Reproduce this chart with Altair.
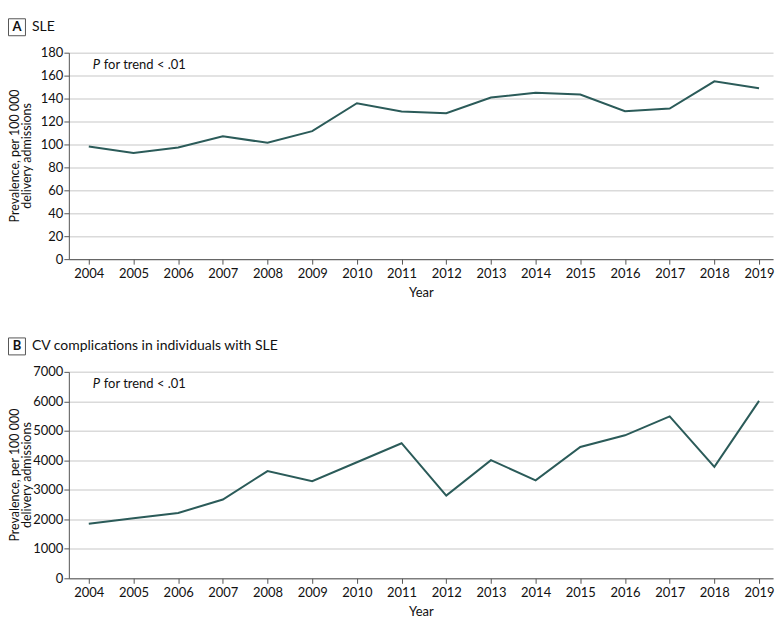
import altair as alt
import pandas as pd

years = list(range(2004, 2020))
sle_prev = [98.3, 92.5, 97.3, 107.2, 101.4, 111.6, 135.9, 128.7, 127.2, 140.9, 145.0, 143.5, 129.0, 131.3, 155.0, 149.0]
cv_prev = [1850, 2040, 2215, 2670, 3636, 3290, 3935, 4580, 2805, 4007, 3323, 4455, 4848, 5488, 3781, 6017]

panel_letters = ["A", "B"]
panel_titles = ["SLE", "CV complications in individuals with SLE"]
y_max = [180, 7000]
y_step = [20, 1000]
y_title = ["Prevalence, per 100 000", "delivery admissions"]
trend_note = "for trend < .01"

FONT = "Lato"
LINE_COLOR = "#2b5b59"
TXT = "#111111"
W, H = 706, 207
X_DOMAIN = [2004 - 20 / 44.8, 2019 + 14 / 44.8]


def panel(letter, title, values, ymax, ystep):
    df = pd.DataFrame({"Year": years, "Value": values})
    line = alt.Chart(df).mark_line(color=LINE_COLOR, strokeWidth=2).encode(
        x=alt.X(
            "Year:Q",
            scale=alt.Scale(domain=X_DOMAIN, nice=False, zero=False),
            axis=alt.Axis(
                values=years, format="d", title="Year", grid=False,
                labelPadding=3, titlePadding=6,
            ),
        ),
        y=alt.Y(
            "Value:Q",
            scale=alt.Scale(domain=[0, ymax], nice=False),
            axis=alt.Axis(
                values=list(range(0, ymax + 1, ystep)), format="d", title=None,
                grid=True, labelPadding=1,
            ),
        ),
    )
    one = pd.DataFrame({"k": [0]})
    base = alt.Chart(one)
    box = base.mark_rect(fill="white", stroke="#555555", strokeWidth=1).encode(
        x=alt.value(-60.5), x2=alt.value(-43.5), y=alt.value(-34), y2=alt.value(-17)
    )
    let = base.mark_text(font=FONT, fontWeight="bold", fontSize=13, align="center",
                         baseline="middle", color=TXT).encode(
        x=alt.value(-52), y=alt.value(-25.5), text=alt.value(letter)
    )
    ttl = base.mark_text(font=FONT, fontSize=14, align="left", baseline="middle",
                         color=TXT).encode(
        x=alt.value(-37), y=alt.value(-25.5), text=alt.value(title)
    )
    p_it = base.mark_text(font=FONT, fontSize=13, fontStyle="italic", align="left",
                          baseline="middle", color=TXT).encode(
        x=alt.value(24), y=alt.value(12), text=alt.value("P")
    )
    p_rest = base.mark_text(font=FONT, fontSize=13, align="left", baseline="middle",
                            color=TXT).encode(
        x=alt.value(35), y=alt.value(12), text=alt.value(trend_note)
    )
    yt1 = base.mark_text(font=FONT, fontSize=12.5, angle=270, align="center",
                         baseline="middle", color=TXT).encode(
        x=alt.value(-54), y=alt.value(H / 2), text=alt.value(y_title[0])
    )
    yt2 = base.mark_text(font=FONT, fontSize=12.5, angle=270, align="center",
                         baseline="middle", color=TXT).encode(
        x=alt.value(-41.5), y=alt.value(H / 2), text=alt.value(y_title[1])
    )
    return alt.layer(line, box, let, ttl, p_it, p_rest, yt1, yt2).properties(width=W, height=H)


a = panel(panel_letters[0], panel_titles[0], sle_prev, y_max[0], y_step[0])
b = panel(panel_letters[1], panel_titles[1], cv_prev, y_max[1], y_step[1])

chart = alt.vconcat(a, b, spacing=113, bounds="flush").properties(
    padding={"top": 9, "left": 0, "right": 0, "bottom": 0}
).configure_view(stroke=None).configure_axis(
    labelFont=FONT, titleFont=FONT, labelFontSize=13, titleFontSize=13,
    labelColor=TXT, titleColor=TXT, titleFontWeight="normal",
    domainColor="#555555", tickColor="#555555", tickSize=5, domainWidth=1, tickWidth=1,
    gridColor="#dadada", gridWidth=1.5,
)

chart.save("out.html", embed_options={"renderer": "svg", "actions": False})
